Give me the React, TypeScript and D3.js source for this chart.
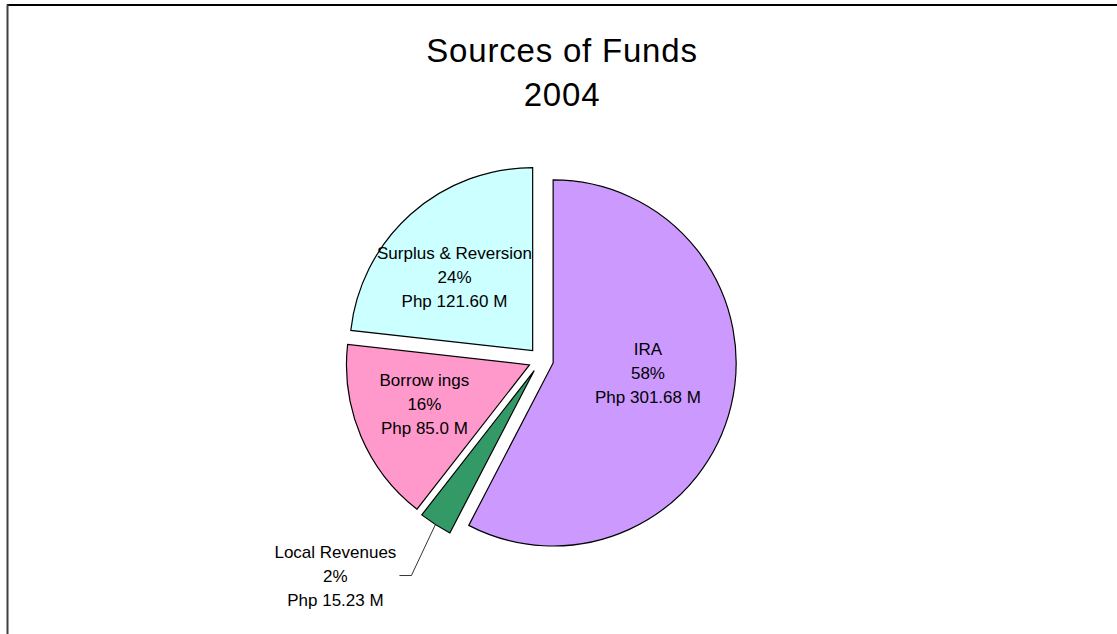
import React from "react";
import * as d3 from "d3";

const categories = ["IRA", "Local Revenues", "Borrowings", "Surplus & Reversion"];
const values = [301.68, 15.23, 85.0, 121.6];
const labelNames = ["IRA", "Local Revenues", "Borrow ings", "Surplus & Reversion"];
const percentLabels = ["58%", "2%", "16%", "24%"];
const amountLabels = ["Php 301.68 M", "Php 15.23 M", "Php 85.0 M", "Php 121.60 M"];
const colors = ["#CC99FF", "#339966", "#FF99CC", "#CCFFFF"];
const titleLines = ["Sources of Funds", "2004"];

const W = 1117;
const H = 634;
const CX = 541;
const CY = 360;
const R = 183;
const EXPLODE = 12.5;
const LABEL_R = 120;
// per-slice label nudges (layout only)
const labelNudge: [number, number][] = [
  [-9.6, -15.4],
  [0, 0],
  [-6, -2.5],
  [-6.5, 6.5],
];
const FONT = "'Liberation Sans', Arial, Helvetica, sans-serif";

export default function App() {
  const pie = d3
    .pie<number>()
    .sort(null)
    .startAngle(0)
    .endAngle(2 * Math.PI)
    .value((d) => d);
  const arcs = pie(values);
  const arcGen = d3.arc<d3.PieArcDatum<number>>().innerRadius(0).outerRadius(R);

  const lineH = 24;
  const fs = 17;

  return (
    <svg
      width={W}
      height={H}
      style={{ position: "absolute", left: 0, top: 0, background: "#fff" }}
      fontFamily={FONT}
    >
      <rect x={0} y={0} width={W} height={H} fill="#fff" />
      <line x1={7} y1={5} x2={W} y2={5} stroke="#000" strokeWidth={1.8} />
      <line x1={7.5} y1={4.5} x2={7.5} y2={H} stroke="#404040" strokeWidth={2} />

      {titleLines.map((t, i) => (
        <text
          key={i}
          x={562}
          y={62 + i * 44}
          textAnchor="middle"
          fontSize={33}
          letterSpacing={0.8}
          fill="#000"
        >
          {t}
        </text>
      ))}

      {arcs.map((a, i) => {
        const mid = (a.startAngle + a.endAngle) / 2;
        const ox = EXPLODE * Math.sin(mid);
        const oy = -EXPLODE * Math.cos(mid);
        return (
          <path
            key={categories[i]}
            d={arcGen(a) || ""}
            transform={`translate(${CX + ox},${CY + oy})`}
            fill={colors[i]}
            stroke="#000"
            strokeWidth={1.2}
            strokeLinejoin="miter"
          />
        );
      })}

      {arcs.map((a, i) => {
        const mid = (a.startAngle + a.endAngle) / 2;
        const lines = [labelNames[i], percentLabels[i], amountLabels[i]];
        if (i === 1) {
          const rr = R + EXPLODE;
          const sx = CX + rr * Math.sin(mid);
          const sy = CY - rr * Math.cos(mid);
          const ey = sy + 51;
          const ex = sx - 24;
          const lx = ex - 12;
          const tx = lx - 64;
          return (
            <g key={"lbl" + i}>
              <polyline
                points={`${sx},${sy} ${ex},${ey} ${lx},${ey}`}
                fill="none"
                stroke="#000"
                strokeWidth={0.8}
              />
              {lines.map((t, j) => (
                <text
                  key={j}
                  x={tx}
                  y={ey + (j - 1) * lineH + 6}
                  textAnchor="middle"
                  fontSize={fs}
                  fill="#000"
                >
                  {t}
                </text>
              ))}
            </g>
          );
        }
        const px = CX + LABEL_R * Math.sin(mid) + labelNudge[i][0];
        const py = CY - LABEL_R * Math.cos(mid) + labelNudge[i][1];
        return (
          <g key={"lbl" + i}>
            {lines.map((t, j) => (
              <text
                key={j}
                x={px}
                y={py + (j - 1) * lineH + 6}
                textAnchor="middle"
                fontSize={fs}
                fill="#000"
              >
                {t}
              </text>
            ))}
          </g>
        );
      })}
    </svg>
  );
}
